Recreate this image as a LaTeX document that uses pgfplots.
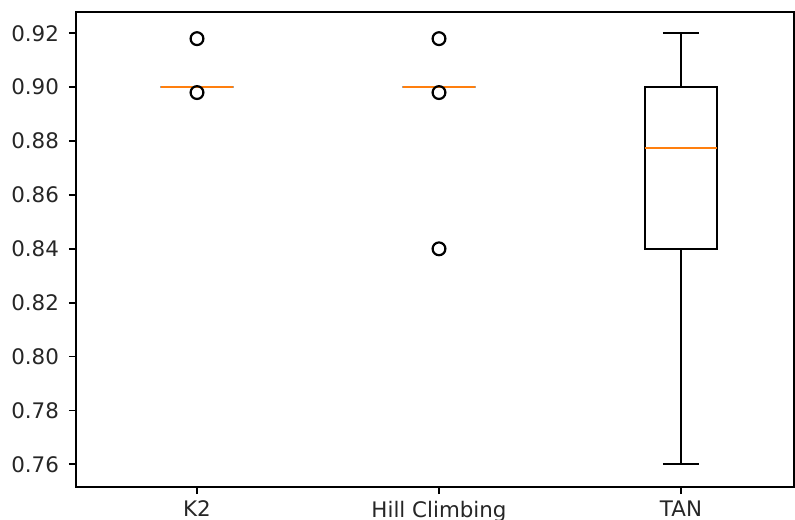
\documentclass[border=0pt]{standalone}
\usepackage{pgfplots}
\pgfplotsset{compat=1.18}
\usepgfplotslibrary{statistics}
\usepackage{fontspec}
\setmainfont{DejaVu Sans}
\definecolor{mplorange}{HTML}{FF7F0E}

\pgfplotsset{
  mplbox/.style={
    black, line width=1.1pt, solid,
    mark=o, mark size=3.2pt,
    mark options={solid, draw=black, fill=none, line width=1.1pt},
    boxplot/draw direction=y,
  },
}

\begin{document}
\begin{tikzpicture}
\useasboundingbox (0,0) rectangle (397.5pt,259.5pt);
\begin{axis}[
  at={(38pt,16pt)}, anchor=south west,
  scale only axis, width=359pt, height=237.5pt,
  xmin=0.5, xmax=3.467, ymin=0.7516, ymax=0.9279,
  xtick={1,2,3}, xticklabels={K2,Hill Climbing,TAN},
  ytick={0.76,0.78,0.80,0.82,0.84,0.86,0.88,0.90,0.92},
  tick align=outside, tick pos=left, major tick length=3.5pt,
  axis line style={line width=0.9pt},
  every tick/.style={black, line width=0.9pt},
  tick label style={font=\fontsize{10.7}{12.8}\selectfont, black!85},
  /pgf/number format/assume math mode=true,
  yticklabel style={xshift=-1.5pt, /pgf/number format/.cd, fixed, fixed zerofill, precision=2},
  boxplot/draw direction=y,
]
% K2
\addplot[mplbox, boxplot prepared={
    draw position=1, box extend=0.3, whisker extend=0.15,
    lower whisker=0.90, lower quartile=0.90, median=0.90,
    upper quartile=0.90, upper whisker=0.90,
    every median/.style={draw=mplorange, line width=1.1pt}}]
  table[row sep=\\, y index=0] {acc\\0.918\\0.898\\};
% Hill Climbing
\addplot[mplbox, boxplot prepared={
    draw position=2, box extend=0.3, whisker extend=0.15,
    lower whisker=0.90, lower quartile=0.90, median=0.90,
    upper quartile=0.90, upper whisker=0.90,
    every median/.style={draw=mplorange, line width=1.1pt}}]
  table[row sep=\\, y index=0] {acc\\0.918\\0.898\\0.84\\};
% TAN
\addplot[mplbox, boxplot prepared={
    draw position=3, box extend=0.3, whisker extend=0.15,
    lower whisker=0.76, lower quartile=0.84, median=0.8775,
    upper quartile=0.90, upper whisker=0.92,
    every median/.style={draw=mplorange, line width=1.1pt}}]
  coordinates {};
\end{axis}
\end{tikzpicture}
\end{document}
